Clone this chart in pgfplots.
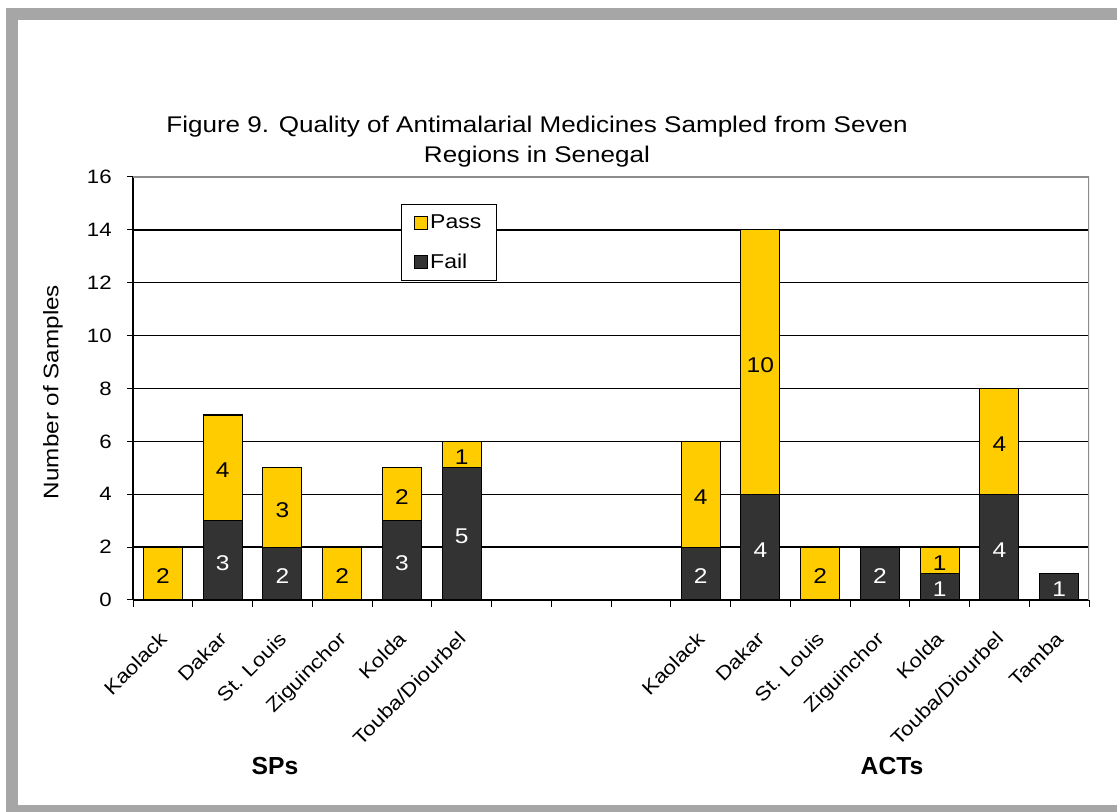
\documentclass[border=0pt]{standalone}
\usepackage{fontspec}
\setmainfont[FakeStretch=1.15]{Liberation Sans}
\newfontfamily\titlefont[FakeStretch=1.15]{Liberation Sans}
\newfontfamily\plainfont{Liberation Sans}
\usepackage{pgfplots}
\pgfplotsset{compat=1.18}
\usepackage{pgfplotstable}
\definecolor{passc}{HTML}{FFCC00}
\definecolor{failc}{HTML}{333333}
\definecolor{framec}{HTML}{A6A6A6}
\definecolor{borderc}{HTML}{8C8C8C}

\pgfplotstableread{
x fail pass
0 0 2
1 3 4
2 2 3
3 0 2
4 3 2
5 5 1
9 2 4
10 4 10
11 0 2
12 2 0
13 1 1
14 4 4
15 1 0
}\datatable

\pgfplotstableread{
x y lab
1 1.5 3
2 1 2
4 1.5 3
5 2.5 5
9 1 2
10 2 4
12 1 2
13 0.5 1
14 2 4
15 0.5 1
}\faillabels

\pgfplotstableread{
x y lab
0 1 2
1 5 4
2 3.5 3
3 1 2
4 4 2
5 5.5 1
9 4 4
10 9 10
11 1 2
13 1.5 1
14 6 4
}\passlabels

\begin{document}
\begin{tikzpicture}[x=0.75pt,y=0.75pt]
\useasboundingbox (0,0) rectangle (1117,812);
\fill[framec] (6,0) rectangle (1117,804);
\fill[white] (18,7) rectangle (1117,792);

\begin{axis}[
  at={(99.75pt,159pt)}, anchor=south west,
  scale only axis, width=717pt, height=317.25pt,
  ybar stacked, bar width=29.25pt,
  xmin=-0.5, xmax=15.5, ymin=0, ymax=16,
  ytick={0,2,...,16},
  xtick={0,1,2,3,4,5,9,10,11,12,13,14,15},
  xticklabels={Kaolack,Dakar,St. Louis,Ziguinchor,Kolda,Touba/Diourbel,Kaolack,Dakar,St. Louis,Ziguinchor,Kolda,Touba/Diourbel,Tamba},
  minor xtick={-0.5,0.5,...,15.5},
  tick align=outside,
  major tick length=4.5pt, minor tick length=5pt,
  major x tick style={draw=none},
  minor x tick style={draw=black, line width=0.75pt},
  ytick style={draw=black, line width=0.75pt},
  axis x line*=bottom, axis y line*=left,
  axis line style={black, line width=1pt},
  ymajorgrids, grid style={black, line width=1pt},
  /pgf/number format/assume math mode=true,
  yticklabel style={font=\fontsize{14.5}{16}\selectfont, xshift=-8pt},
  xticklabel style={font=\fontsize{14.5}{16}\selectfont, rotate=45, anchor=north east, xshift=-12pt, yshift=-7pt},
  title={Figure 9. Quality of Antimalarial Medicines Sampled from Seven\\Regions in Senegal},
  title style={font=\titlefont\fontsize{17}{22}\selectfont, align=center, at={(axis description cs:0.4226,1.125)}, anchor=north, inner sep=0pt},
  ylabel={Number of Samples},
  ylabel style={font=\fontsize{15.8}{18}\selectfont, at={(axis description cs:-0.0837,0.4917)}, anchor=center},
  reverse legend,
  legend cell align=left,
  legend style={at={(axis description cs:0.2806,0.9362)}, anchor=north west, draw=black, line width=0.75pt, fill=white,
    font=\fontsize{15}{17}\selectfont, inner xsep=9pt, inner ysep=6pt, row sep=13pt},
]
\addplot[fill=failc, draw=black, line width=0.9pt,
  legend image code/.code={\draw[fill=failc, draw=black, line width=0.6pt] (0pt,-4.9pt) rectangle (9.75pt,4.9pt);}]
  table[x=x,y=fail]{\datatable};
\addlegendentry{Fail}
\addplot[fill=passc, draw=black, line width=0.9pt,
  legend image code/.code={\draw[fill=passc, draw=black, line width=0.6pt] (0pt,-4.9pt) rectangle (9.75pt,4.9pt);}]
  table[x=x,y=pass]{\datatable};
\addlegendentry{Pass}
\draw[borderc, line width=1.2pt] (rel axis cs:0,1) -- (rel axis cs:1,1) -- (rel axis cs:1,0);
\end{axis}

\begin{axis}[
  at={(99.75pt,159pt)}, anchor=south west,
  scale only axis, width=717pt, height=317.25pt,
  xmin=-0.5, xmax=15.5, ymin=0, ymax=16,
  hide axis, clip=false,
]
\addplot[draw=none, nodes near coords, point meta=explicit symbolic,
  every node near coord/.append style={anchor=center, text=white, yshift=-2pt, font=\fontsize{16}{18}\selectfont}]
  table[x=x,y=y,meta=lab]{\faillabels};
\addplot[draw=none, nodes near coords, point meta=explicit symbolic,
  every node near coord/.append style={anchor=center, text=black, yshift=-2pt, font=\fontsize{16}{18}\selectfont}]
  table[x=x,y=y,meta=lab]{\passlabels};
\end{axis}

\node[font=\plainfont\bfseries\fontsize{18.5}{20}\selectfont, anchor=base] at (275,37) {SPs};
\node[font=\plainfont\bfseries\fontsize{18.5}{20}\selectfont, anchor=base] at (892,37) {ACTs};
\end{tikzpicture}
\end{document}
